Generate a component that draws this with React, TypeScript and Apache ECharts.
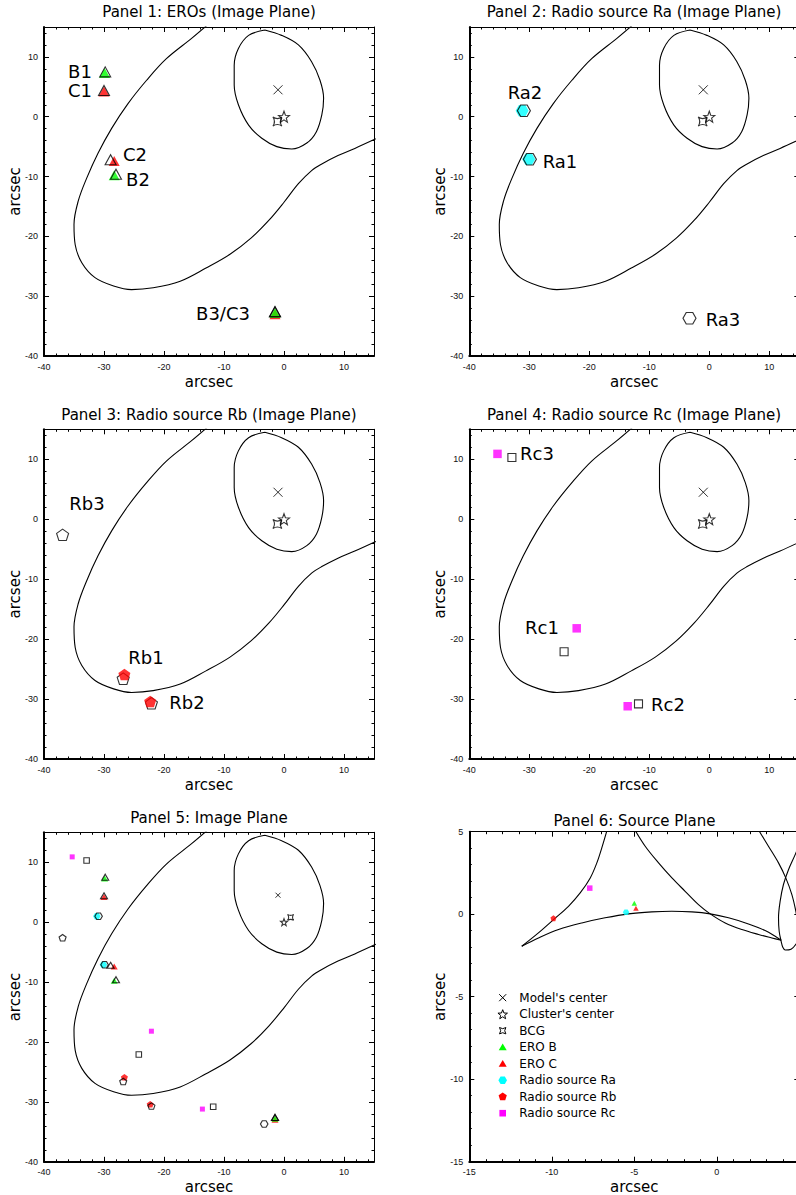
import React, { useEffect, useRef } from 'react';
import * as echarts from 'echarts';

// ---------- data ----------
// critical curves in the image plane (arcsec)
const outerCritical: number[][] = [
  [-12.7, 15.4], [-15.4, 13.1], [-19.6, 9.7], [-22.9, 6.1], [-26.0, 2.2], [-28.7, -1.9],
  [-31.0, -6.1], [-32.9, -10.3], [-34.3, -14.1], [-35.0, -18.0], [-34.8, -21.4],
  [-33.7, -24.4], [-31.5, -26.9], [-28.4, -28.3], [-25.4, -28.9], [-21.8, -28.6],
  [-17.3, -27.5], [-13.0, -25.3], [-9.0, -23.0], [-5.5, -20.3], [-2.5, -17.3],
  [0.0, -14.3], [2.4, -11.2], [4.6, -9.0], [6.3, -7.9], [9.0, -6.5], [11.8, -5.3], [15.3, -3.7],
];
const innerCritical: number[][] = [
  [-3.2, 14.5], [-0.4, 13.6], [2.4, 12.0], [4.6, 9.2], [6.0, 6.1], [6.6, 3.1], [6.3, 0.3],
  [5.4, -2.5], [3.8, -4.4], [1.3, -5.4], [-1.2, -5.0], [-3.7, -3.6], [-5.9, -1.4],
  [-7.6, 2.0], [-8.3, 5.3], [-8.3, 8.6], [-7.6, 11.4], [-5.9, 13.6], [-3.2, 14.5],
];
// caustics in the source plane
const causticLeft: number[][] = [
  [-6.62, 5.2], [-6.97, 4.02], [-7.27, 3.11], [-7.67, 2.2], [-8.28, 1.29], [-8.99, 0.48],
  [-9.9, -0.33], [-10.81, -1.13], [-11.82, -1.94],
];
const causticArc: number[][] = [
  [-11.82, -1.94], [-10.81, -1.44], [-9.59, -0.93], [-8.18, -0.53], [-6.77, -0.22],
  [-5.35, 0.02], [-3.94, 0.14], [-2.73, 0.18], [-1.51, 0.14], [-0.4, 0.02], [0.71, -0.22],
  [1.92, -0.59], [2.93, -0.99], [3.54, -1.34], [3.9, -1.58],
];
const causticDiagonal: number[][] = [
  [-5.02, 5.2], [-4.34, 4.12], [-3.53, 3.11], [-2.72, 2.2], [-1.92, 1.39], [-1.11, 0.58],
  [-0.4, 0.02], [0.51, -0.53], [1.52, -0.93], [2.53, -1.23], [3.34, -1.44], [3.9, -1.58],
];
const causticOuterRight: number[][] = [
  [2.47, 5.2], [3.13, 4.12], [3.74, 3.11], [4.18, 2.2], [4.55, 1.19], [4.79, 0.18],
  [4.95, -0.83], [5.05, -1.5],
];
const causticLoop: number[][] = [
  [5.15, 4.6], [4.75, 3.61], [4.35, 2.71], [4.04, 1.8], [3.84, 0.79], [3.74, -0.22],
  [3.78, -1.03], [3.9, -1.64], [4.0, -2.0], [4.15, -2.17], [4.5, -2.12], [4.85, -1.74], [5.1, -1.2],
];

const modelCenter = [[-1.0, 4.5]];
const clusterCenter = [[0.0, 0.0]];
const bcgPanels1to4 = [[-1.1, -0.8]];
const bcgPanel5 = [[1.1, 0.8]];

const eroBObserved = [[-29.8, 7.5], [-28.0, -9.6], [-1.5, -32.6]];
const eroBPredicted = [[-29.9, 7.3], [-28.3, -9.8], [-1.5, -32.8]];
const eroCObserved = [[-30.0, 4.4], [-28.9, -7.2], [-1.5, -32.6]];
const eroCPredicted = [[-30.0, 4.2], [-28.3, -7.4], [-1.5, -33.0]];
const raObserved = [[-29.9, -7.1], [-30.9, 1.0], [-3.3, -33.7]];
const raPredicted = [[-30.1, -7.1], [-31.2, 1.0]];
const rbObserved = [[-26.8, -26.6], [-22.1, -30.7], [-36.9, -2.6]];
const rbPredicted = [[-26.6, -25.9], [-22.3, -30.4]];
const rcObserved = [[-24.2, -22.1], [-11.8, -30.8], [-32.9, 10.3]];
const rcPredicted = [[-22.1, -18.2], [-13.6, -31.2], [-35.3, 10.9]];

const sourceEroB = [[-5.0, 0.67]];
const sourceEroC = [[-4.9, 0.36]];
const sourceRa = [[-5.5, 0.12]];
const sourceRb = [[-9.9, -0.24]];
const sourceRc = [[-7.7, 1.58]];

const imageTickLabels = [-40, -30, -20, -10, 0, 10];
const sourceXTickLabels = [-15, -10, -5, 0];
const sourceYTickLabels = [-15, -10, -5, 0, 5];

const panelTitles = [
  'Panel 1: EROs (Image Plane)',
  'Panel 2: Radio source Ra (Image Plane)',
  'Panel 3: Radio source Rb (Image Plane)',
  'Panel 4: Radio source Rc (Image Plane)',
  'Panel 5: Image Plane',
  'Panel 6: Source Plane',
];
const legendNames = [
  "Model's center", "Cluster's center", 'BCG', 'ERO B', 'ERO C',
  'Radio source Ra', 'Radio source Rb', 'Radio source Rc',
];
const imageLabels = [
  ['B1', 'C1', 'C2', 'B2', 'B3/C3'],
  ['Ra2', 'Ra1', 'Ra3'],
  ['Rb3', 'Rb1', 'Rb2'],
  ['Rc3', 'Rc1', 'Rc2'],
];

// ---------- layout ----------
const GRIDS = [
  { left: 44, top: 27, width: 330, height: 329 },
  { left: 469.3, top: 27, width: 330, height: 329 },
  { left: 44, top: 429.3, width: 330, height: 329.7 },
  { left: 469.3, top: 429.3, width: 330, height: 329.7 },
  { left: 44, top: 832.3, width: 330, height: 329.5 },
  { left: 469.3, top: 831.7, width: 330, height: 330 },
];
const TITLE_POS = [[209, 12], [634, 12], [209, 415], [634, 415], [209, 817.5], [634.5, 820.5]];
const LABEL_POS = [
  [[80, 71], [80, 90], [135, 154], [138, 179], [223, 313]],
  [[525, 92], [560, 161], [723, 319]],
  [[87, 503], [146, 657], [187, 702]],
  [[537, 453], [542, 627], [668, 704]],
];

const SANS = 'DejaVu Sans, Verdana, sans-serif';
const TICKFONT = 'Liberation Sans, Arial, sans-serif';

const GREEN = '#00ff00';
const RED = '#ff0000';
const CYAN = '#00ffff';
const MAGENTA = '#ff00ff';

function starPath(): string {
  const pts: string[] = [];
  for (let i = 0; i < 10; i++) {
    const a = (-90 + 36 * i) * Math.PI / 180;
    const r = i % 2 === 0 ? 1 : 0.42;
    pts.push(`${(r * Math.cos(a)).toFixed(3)},${(r * Math.sin(a)).toFixed(3)}`);
  }
  return 'path://M' + pts.join(' L') + ' Z';
}
const STAR = starPath();
const HEX = 'path://M-1,0 L-0.5,-0.866 L0.5,-0.866 L1,0 L0.5,0.866 L-0.5,0.866 Z';
const PENT = 'path://M0,-1 L0.951,-0.309 L0.588,0.809 L-0.588,0.809 L-0.951,-0.309 Z';
const BCG = 'path://M-1,-1 Q0,-0.3 1,-1 Q0.3,0 1,1 Q0,0.3 -1,1 Q-0.3,0 -1,-1 Z';
const CROSS = 'path://M0,0 L1,1 M1,0 L0,1';

const OPEN = { color: 'rgba(0,0,0,0)', borderColor: '#000', borderWidth: 1.1 };
const filled = (c: string) => ({ color: c, borderWidth: 0 });

function makeAxes(dim: 'x' | 'y', g: number, min: number, max: number, major: number, minor: number, labels: number[], nameGap: number) {
  const common = {
    type: 'value', gridIndex: g, min, max, splitLine: { show: false },
    minorTick: { show: false }, axisPointer: { show: false }, silent: true,
  };
  const a = dim === 'x' ? 'bottom' : 'left';
  const b = dim === 'x' ? 'top' : 'right';
  const tickStyle = { color: '#000', width: 1 };
  return [
    {
      ...common, position: a, interval: major,
      axisLine: { show: true, onZero: false, lineStyle: { color: '#000', width: 2 } },
      axisTick: { show: true, inside: true, length: 5, lineStyle: tickStyle },
      axisLabel: {
        show: true, margin: 6, fontSize: 9, color: '#111', fontFamily: TICKFONT,
        formatter: (v: number) => (labels.includes(v) ? String(v) : ''),
      },
      name: 'arcsec', nameLocation: 'middle', nameGap, nameMoveOverlap: false,
      nameTextStyle: { fontSize: 15, color: '#000', fontFamily: SANS },
    },
    {
      ...common, position: a, interval: minor,
      axisLine: { show: false, onZero: false },
      axisTick: { show: true, inside: true, length: 2.5, lineStyle: tickStyle },
      axisLabel: { show: false },
    },
    {
      ...common, position: b, interval: major,
      axisLine: { show: true, onZero: false, lineStyle: { color: '#000', width: 1 } },
      axisTick: { show: true, inside: true, length: 5, lineStyle: tickStyle },
      axisLabel: { show: false },
    },
    {
      ...common, position: b, interval: minor,
      axisLine: { show: false, onZero: false },
      axisTick: { show: true, inside: true, length: 2.5, lineStyle: tickStyle },
      axisLabel: { show: false },
    },
  ];
}

function curve(g: number, data: number[][]) {
  return {
    type: 'line', xAxisIndex: 4 * g, yAxisIndex: 4 * g, data, symbol: 'none', showSymbol: false,
    smooth: 0.35, clip: true, silent: true, z: 2,
    lineStyle: { color: '#000', width: 1.1 },
  };
}
function pts(g: number, data: number[][], symbol: string, size: any, itemStyle: any, z = 3) {
  return {
    type: 'scatter', xAxisIndex: 4 * g, yAxisIndex: 4 * g, data, symbol, symbolSize: size,
    itemStyle, silent: true, z, clip: true,
  };
}

function imageBase(g: number, small: boolean, bcg: number[][]) {
  return [
    curve(g, outerCritical),
    curve(g, innerCritical),
    pts(g, modelCenter, CROSS, small ? 5 : 9, { color: 'none', borderColor: '#000', borderWidth: 1 }, 5),
    pts(g, clusterCenter, STAR, small ? 7 : 11, OPEN, 5),
    pts(g, bcg, BCG, small ? 6 : 9, OPEN, 5),
  ];
}

const BIG = { tri: [11, 10], hex: [13, 11.5], pent: [12, 11.5], sq: 8.5, osq: 8 };
const SMALL = { tri: [7, 6], hex: [7.5, 6.5], pent: [7, 6.5], sq: 5, osq: 5.5 };

function buildOption() {
  const xAxis: any[] = [];
  const yAxis: any[] = [];
  for (let g = 0; g < 6; g++) {
    if (g < 5) {
      xAxis.push(...makeAxes('x', g, -40, 15, 10, 2, imageTickLabels, 18));
      yAxis.push(...makeAxes('y', g, -40, 15, 10, 2, imageTickLabels, 22));
    } else {
      xAxis.push(...makeAxes('x', g, -15, 5, 5, 1, sourceXTickLabels, 18));
      yAxis.push(...makeAxes('y', g, -15, 5, 5, 1, sourceYTickLabels, 22));
    }
  }

  const series: any[] = [];
  // Panel 1
  series.push(...imageBase(0, false, bcgPanels1to4));
  series.push(pts(0, eroCPredicted, 'triangle', BIG.tri, filled(RED), 3));
  series.push(pts(0, eroBPredicted, 'triangle', BIG.tri, filled(GREEN), 3));
  series.push(pts(0, eroBObserved, 'triangle', BIG.tri, OPEN, 4));
  series.push(pts(0, eroCObserved, 'triangle', BIG.tri, OPEN, 4));
  // Panel 2
  series.push(...imageBase(1, false, bcgPanels1to4));
  series.push(pts(1, raPredicted, HEX, BIG.hex, filled(CYAN), 3));
  series.push(pts(1, raObserved, HEX, BIG.hex, OPEN, 4));
  // Panel 3
  series.push(...imageBase(2, false, bcgPanels1to4));
  series.push(pts(2, rbObserved, PENT, BIG.pent, OPEN, 3));
  series.push(pts(2, rbPredicted, PENT, BIG.pent, filled(RED), 4));
  // Panel 4
  series.push(...imageBase(3, false, bcgPanels1to4));
  series.push(pts(3, rcPredicted, 'rect', BIG.sq, filled(MAGENTA), 3));
  series.push(pts(3, rcObserved, 'rect', BIG.osq, OPEN, 4));
  // Panel 5
  series.push(...imageBase(4, true, bcgPanel5));
  series.push(pts(4, eroCPredicted, 'triangle', SMALL.tri, filled(RED), 3));
  series.push(pts(4, eroBPredicted, 'triangle', SMALL.tri, filled(GREEN), 3));
  series.push(pts(4, raPredicted, HEX, SMALL.hex, filled(CYAN), 3));
  series.push(pts(4, rbPredicted, PENT, SMALL.pent, filled(RED), 3));
  series.push(pts(4, rcPredicted, 'rect', SMALL.sq, filled(MAGENTA), 3));
  series.push(pts(4, eroBObserved, 'triangle', SMALL.tri, OPEN, 4));
  series.push(pts(4, eroCObserved, 'triangle', SMALL.tri, OPEN, 4));
  series.push(pts(4, raObserved, HEX, SMALL.hex, OPEN, 4));
  series.push(pts(4, rbObserved, PENT, SMALL.pent, OPEN, 4));
  series.push(pts(4, rcObserved, 'rect', SMALL.osq, OPEN, 4));
  // Panel 6
  [causticLeft, causticArc, causticDiagonal, causticOuterRight, causticLoop].forEach((c) => series.push(curve(5, c)));
  series.push(pts(5, sourceRc, 'rect', 5.5, filled(MAGENTA), 3));
  series.push(pts(5, sourceRb, PENT, [6, 6], filled(RED), 3));
  series.push(pts(5, sourceRa, HEX, [6.5, 5.6], filled(CYAN), 3));
  series.push(pts(5, sourceEroB, 'triangle', [5.5, 5], filled(GREEN), 3));
  series.push(pts(5, sourceEroC, 'triangle', [5.5, 5], filled(RED), 4));

  // graphic: titles, image labels, legend
  const graphic: any[] = [];
  panelTitles.forEach((t, i) => {
    graphic.push({
      type: 'text', x: TITLE_POS[i][0], y: TITLE_POS[i][1], silent: true,
      style: { text: t, fill: '#000', fontSize: 15, fontFamily: SANS, align: 'center', verticalAlign: 'middle' },
    });
  });
  imageLabels.forEach((labs, p) => {
    labs.forEach((t, j) => {
      graphic.push({
        type: 'text', x: LABEL_POS[p][j][0], y: LABEL_POS[p][j][1], silent: true,
        style: { text: t, fill: '#000', fontSize: 18, fontFamily: SANS, align: 'center', verticalAlign: 'middle' },
      });
    });
  });
  const lx = 502.7;
  const textX = 519.3;
  const row0 = 997.7;
  const rowGap = 16.5;
  const poly = (n: number, r: number, cx: number, cy: number, rot: number, inner?: number) => {
    const out: number[][] = [];
    const m = inner ? n * 2 : n;
    for (let i = 0; i < m; i++) {
      const a = (rot + (360 / m) * i) * Math.PI / 180;
      const rr = inner && i % 2 === 1 ? inner : r;
      out.push([cx + rr * Math.cos(a), cy + rr * Math.sin(a)]);
    }
    return out;
  };
  legendNames.forEach((name, i) => {
    const cy = row0 + i * rowGap;
    graphic.push({
      type: 'text', x: textX, y: cy, silent: true,
      style: { text: name, fill: '#000', fontSize: 12, fontFamily: SANS, align: 'left', verticalAlign: 'middle' },
    });
    if (i === 0) {
      graphic.push({ type: 'line', silent: true, shape: { x1: lx - 3.5, y1: cy - 3.5, x2: lx + 3.5, y2: cy + 3.5 }, style: { stroke: '#000', lineWidth: 1 } });
      graphic.push({ type: 'line', silent: true, shape: { x1: lx + 3.5, y1: cy - 3.5, x2: lx - 3.5, y2: cy + 3.5 }, style: { stroke: '#000', lineWidth: 1 } });
    } else if (i === 1) {
      graphic.push({ type: 'polygon', silent: true, shape: { points: poly(5, 5, lx, cy + 0.5, -90, 2.1) }, style: { fill: 'none', stroke: '#000', lineWidth: 1 } });
    } else if (i === 2) {
      graphic.push({ type: 'polygon', silent: true, shape: { points: poly(4, 4.5, lx, cy, -135, 2) }, style: { fill: 'none', stroke: '#000', lineWidth: 1 } });
    } else if (i === 3 || i === 4) {
      graphic.push({ type: 'polygon', silent: true, shape: { points: [[lx, cy - 3.8], [lx + 4, cy + 3], [lx - 4, cy + 3]] }, style: { fill: i === 3 ? GREEN : RED } });
    } else if (i === 5) {
      graphic.push({ type: 'polygon', silent: true, shape: { points: poly(6, 4.3, lx, cy, 0) }, style: { fill: CYAN } });
    } else if (i === 6) {
      graphic.push({ type: 'polygon', silent: true, shape: { points: poly(5, 4.3, lx, cy, -90) }, style: { fill: RED } });
    } else {
      graphic.push({ type: 'rect', silent: true, shape: { x: lx - 3.3, y: cy - 3.3, width: 6.6, height: 6.6 }, style: { fill: MAGENTA } });
    }
  });

  return {
    animation: false,
    backgroundColor: '#fff',
    grid: GRIDS.map((g) => ({ ...g, containLabel: false, outerBoundsMode: 'none', show: false })),
    xAxis,
    yAxis,
    series,
    graphic,
  };
}

export default function App() {
  const ref = useRef<HTMLDivElement>(null);
  useEffect(() => {
    if (!ref.current) return;
    const chart = echarts.init(ref.current, undefined, { renderer: 'svg' });
    chart.setOption(buildOption() as any);
    return () => chart.dispose();
  }, []);
  return (
    <div
      ref={ref}
      style={{ position: 'absolute', left: 0, top: 0, width: 796, height: 1195, background: '#fff' }}
    />
  );
}
